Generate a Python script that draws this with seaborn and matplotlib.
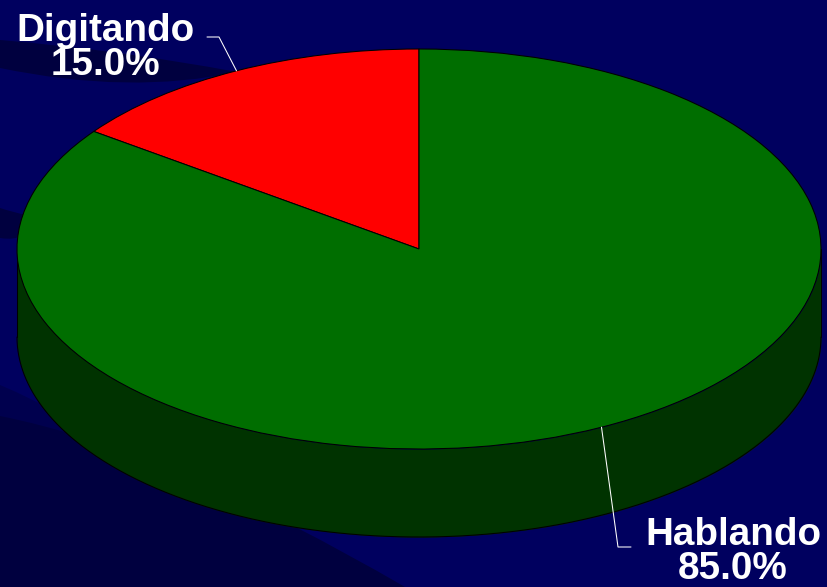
import numpy as np
import matplotlib
matplotlib.use("Agg")
import matplotlib.pyplot as plt
from matplotlib.patches import PathPatch
from matplotlib.path import Path
import seaborn as sns

# Share of time per activity
labels = ["Digitando", "Hablando"]
shares = [15.0, 85.0]
slice_colors = ["#ff0000", "#006e00"]
wall_color = "#003300"

background = "#00005f"
band_dark = "#00003f"
band_mid = "#00004e"

sns.set_theme(style="white")
plt.rcParams["font.family"] = ["Liberation Sans", "DejaVu Sans"]

fig = plt.figure(figsize=(8.27, 5.87), dpi=100, facecolor=background)
ax = fig.add_axes([0, 0, 1, 1], facecolor=background)

# Pixel geometry of the tilted disc
cx, cy, rx, ry, depth = 419.0, 249.0, 402.0, 200.0, 88.0
W, H = 827.0, 587.0
edge_width = 0.75


def to_data(px, py):
    return (px - cx) / rx, (cy - py) / ry


def swoosh(points, color):
    # Closed shape of quadratic Bezier segments, points given in pixels
    verts = [to_data(*p) for p in points]
    codes = [Path.MOVETO] + [Path.CURVE3] * (len(verts) - 2) + [Path.CLOSEPOLY]
    ax.add_patch(PathPatch(Path(verts, codes), fc=color, ec="none", zorder=0))


# Darker sweeping bands behind the chart
swoosh([(0, 40), (120, 50), (237, 72), (130, 95), (0, 68), (0, 40)], band_dark)
swoosh([(0, 208), (12, 212), (30, 216), (30, 243), (0, 238), (0, 208)], band_dark)
swoosh([(0, 385), (60, 410), (160, 470), (160, 470), (0, 470), (0, 385)], band_mid)
swoosh([(0, 416), (170, 450), (405, 587), (405, 587), (0, 587), (0, 416)], band_dark)

# Side wall along the front half of the disc
t = np.radians(np.linspace(180, 360, 400))
ax.fill_between(np.cos(t), np.sin(t), np.sin(t) - depth / ry,
                color=wall_color, lw=0, zorder=1)
ax.plot(np.cos(t), np.sin(t) - depth / ry, color="black", lw=edge_width, zorder=2)
ax.plot([-1, -1], [0, -depth / ry], color="black", lw=edge_width, zorder=2)
ax.plot([1, 1], [0, -depth / ry], color="black", lw=edge_width, zorder=2)

# Top face: the first slice runs counter-clockwise from twelve o'clock
wedges, _ = ax.pie(shares, colors=slice_colors, startangle=90, counterclock=True,
                   radius=1.0, frame=True,
                   wedgeprops=dict(edgecolor="black", linewidth=edge_width, zorder=3))
ax.set_aspect("auto")
ax.set_xlim((0 - cx) / rx, (W - cx) / rx)
ax.set_ylim((cy - H) / ry, cy / ry)
ax.set_xticks([])
ax.set_yticks([])
sns.despine(ax=ax, left=True, bottom=True)

# Callouts: each leader starts at the middle of its slice's rim
mid_angles = np.radians(90 + 3.6 * (np.cumsum(shares) - np.array(shares) / 2))
elbows = [[(219, 37), (207, 37)], [(618, 547), (631, 547)]]
text_centres = [105, 733]
baselines = [(41, 75), (545, 579)]
for name, share, ang, elbow, xc, (y1, y2) in zip(labels, shares, mid_angles, elbows,
                                                 text_centres, baselines):
    pts = [(np.cos(ang), np.sin(ang))] + [to_data(*p) for p in elbow]
    ax.plot(*zip(*pts), color="white", lw=edge_width, zorder=4)
    ax.text(*to_data(xc, y1), name, color="white", fontsize=27.8, fontweight="bold",
            ha="center", va="baseline", zorder=5)
    ax.text(*to_data(xc, y2), f"{share:.1f}%", color="white", fontsize=27.8,
            fontweight="bold", ha="center", va="baseline", zorder=5)

fig.savefig("out.png", dpi=100, facecolor=background)
